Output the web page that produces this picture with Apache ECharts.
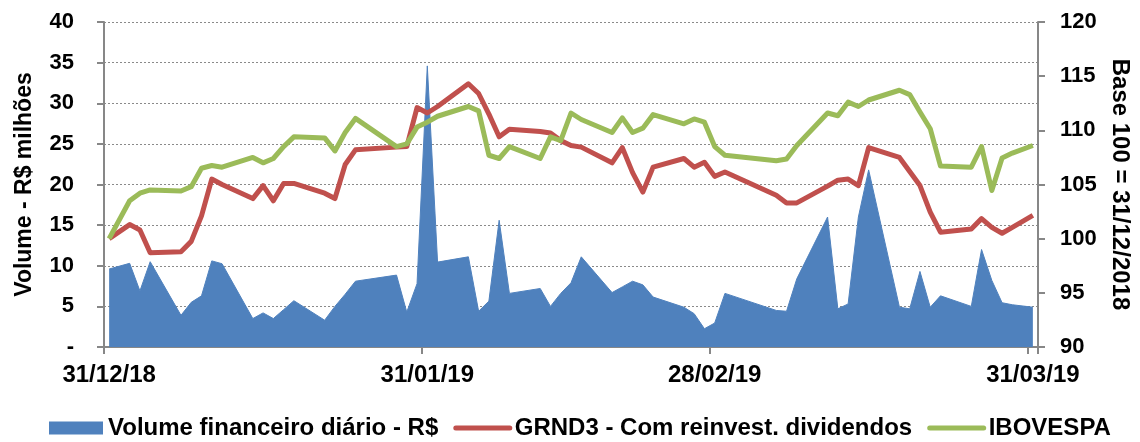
<!DOCTYPE html>
<html>
<head>
<meta charset="utf-8">
<script src="https://cdn.jsdelivr.net/npm/echarts@6/dist/echarts.min.js"></script>
<style>html,body{margin:0;padding:0;background:#fff;}#c{width:1140px;height:442px;}</style>
</head>
<body>
<div id="c"></div>
<script>
// Trading dates (yyyy-mm-dd)
const dates = [
 '2018-12-31','2019-01-02','2019-01-03','2019-01-04','2019-01-07','2019-01-08','2019-01-09','2019-01-10','2019-01-11',
 '2019-01-14','2019-01-15','2019-01-16','2019-01-17','2019-01-18','2019-01-21','2019-01-22','2019-01-23','2019-01-24',
 '2019-01-28','2019-01-29','2019-01-30','2019-01-31','2019-02-01','2019-02-04','2019-02-05','2019-02-06','2019-02-07',
 '2019-02-08','2019-02-11','2019-02-12','2019-02-13','2019-02-14','2019-02-15','2019-02-18','2019-02-19','2019-02-20',
 '2019-02-21','2019-02-22','2019-02-25','2019-02-26','2019-02-27','2019-02-28','2019-03-01','2019-03-06','2019-03-07',
 '2019-03-08','2019-03-11','2019-03-12','2019-03-13','2019-03-14','2019-03-15','2019-03-18','2019-03-19','2019-03-20',
 '2019-03-21','2019-03-22','2019-03-25','2019-03-26','2019-03-27','2019-03-28','2019-03-29','2019-03-31'
];
// Volume financeiro diário (R$ milhões)
const volume = [
 9.6,10.3,6.9,10.5,3.9,5.5,6.3,10.6,10.25,
 3.5,4.2,3.5,4.6,5.7,3.3,5.0,6.5,8.1,
 8.85,4.3,7.8,34.6,10.45,11.1,4.4,5.65,15.6,
 6.6,7.2,5.0,6.6,7.9,11.1,6.7,7.4,8.1,
 7.65,6.15,4.9,4.1,2.25,2.95,6.6,4.5,4.4,
 8.4,16.0,4.7,5.3,16.0,21.8,4.9,4.7,9.3,
 4.9,6.3,5.0,12.0,8.2,5.45,5.2,4.9
];
// GRND3 - Com reinvest. dividendos (base 100)
const grnd3 = [
 100,101.3,100.8,98.7,98.8,99.75,102.1,105.5,105.0,
 103.7,104.9,103.5,105.1,105.1,104.2,103.7,106.85,108.2,
 108.45,108.5,112.1,111.6,112.2,114.3,113.4,111.5,109.4,
 110.1,109.9,109.75,109.05,108.6,108.45,107.0,108.4,106.1,
 104.3,106.6,107.4,106.6,107.05,105.75,106.15,104.0,103.3,
 103.3,104.85,105.4,105.5,104.9,108.4,107.5,106.2,104.9,
 102.45,100.6,100.9,101.85,101.05,100.5,101.05,102.15
];
// IBOVESPA (base 100)
const ibov = [
 100,103.5,104.2,104.5,104.4,104.8,106.5,106.75,106.6,
 107.5,107.0,107.4,108.5,109.4,109.3,108.1,109.8,111.1,
 108.5,108.75,110.3,110.75,111.3,112.2,111.8,107.7,107.4,
 108.5,107.4,109.4,109.05,111.6,111.0,109.8,111.15,109.8,
 110.2,111.45,110.6,111.05,110.75,108.5,107.7,107.2,107.35,
 108.6,111.6,111.35,112.6,112.2,112.8,113.7,113.3,111.7,
 110.15,106.7,106.6,108.5,104.45,107.45,107.9,108.6
];
const tickDates = ['2018-12-31','2019-01-31','2019-02-28','2019-03-31'];
const seriesNames = ['Volume financeiro diário - R$','GRND3 - Com reinvest. dividendos','IBOVESPA'];

// Build daily category axis (one slot per calendar day)
const DAY = 86400000;
function utc(s){const p=s.split('-').map(Number);return Date.UTC(p[0],p[1]-1,p[2]);}
const start = utc('2018-12-31'), end = utc('2019-03-31');
const nDays = Math.round((end-start)/DAY)+1;
const cats = [];
for(let i=0;i<nDays;i++){
  const d=new Date(start+i*DAY);
  const dd=String(d.getUTCDate()).padStart(2,'0'), mm=String(d.getUTCMonth()+1).padStart(2,'0'), yy=String(d.getUTCFullYear()%100).padStart(2,'0');
  cats.push(dd+'/'+mm+'/'+yy);
}
function daily(vals){
  const arr=new Array(nDays).fill(null);
  dates.forEach((s,i)=>{arr[Math.round((utc(s)-start)/DAY)]=vals[i];});
  return arr;
}
const tickIdx = new Set(tickDates.map(s=>Math.round((utc(s)-start)/DAY)));

const FONT = '"Liberation Sans", Arial, sans-serif';
const axisLineStyle = {color:'#878787', width:2};
const noSymbol = {color:'rgba(0,0,0,0)', borderWidth:0, opacity:0};
const chart = echarts.init(document.getElementById('c'), null, {renderer:'canvas'});
chart.setOption({
  animation:false,
  textStyle:{fontFamily:FONT},
  grid:{left:104, right:99, top:22, bottom:95, containLabel:false},
  legend:{
    left:44, top:411, itemWidth:54, itemHeight:13, itemGap:15,
    textStyle:{fontFamily:FONT, fontWeight:'bold', fontSize:24, color:'#000'},
    data:[
      {name:seriesNames[0], icon:'rect', itemStyle:{color:'#4F81BD', borderWidth:0}, lineStyle:{width:0}},
      {name:seriesNames[1], itemStyle:noSymbol, lineStyle:{width:5, color:'#C0504D', cap:'round'}},
      {name:seriesNames[2], itemStyle:noSymbol, lineStyle:{width:5, color:'#9BBB59', cap:'round'}}
    ]
  },
  xAxis:{
    type:'category', data:cats, boundaryGap:true,
    axisLine:{lineStyle:axisLineStyle},
    axisTick:{show:true, length:7, lineStyle:{color:'#878787', width:2}, interval:(i)=>tickIdx.has(i)},
    axisLabel:{interval:(i)=>tickIdx.has(i), margin:16, fontFamily:FONT, fontWeight:'bold', fontSize:24, color:'#000'},
    splitLine:{show:false}
  },
  yAxis:[
    {
      type:'value', min:0, max:40, interval:5, position:'left',
      name:'Volume - R$ milhões', nameLocation:'middle', nameRotate:90, nameGap:68,
      nameTextStyle:{fontFamily:FONT, fontWeight:'bold', fontSize:23, color:'#000'},
      axisLine:{show:true, lineStyle:axisLineStyle},
      axisTick:{show:true, length:7, lineStyle:{color:'#878787', width:2}},
      axisLabel:{margin:30, fontFamily:FONT, fontWeight:'bold', fontSize:22, color:'#000', formatter:(v)=>v===0?'-':String(v)},
      splitLine:{show:true, lineStyle:{color:'#8a8a8a', width:1, type:[2,2]}}
    },
    {
      type:'value', min:90, max:120, interval:5, position:'right',
      name:'Base 100 = 31/12/2018', nameLocation:'middle', nameRotate:-90, nameGap:70,
      nameTextStyle:{fontFamily:FONT, fontWeight:'bold', fontSize:24, color:'#000'},
      axisLine:{show:true, lineStyle:axisLineStyle},
      axisTick:{show:true, length:7, lineStyle:{color:'#878787', width:2}},
      axisLabel:{margin:22, fontFamily:FONT, fontWeight:'bold', fontSize:22, color:'#000'},
      splitLine:{show:false}
    }
  ],
  series:[
    {name:seriesNames[0], type:'line', yAxisIndex:0, data:daily(volume), connectNulls:true, symbol:'none',
     itemStyle:{color:'#4F81BD'}, lineStyle:{color:'#4F81BD', width:1}, areaStyle:{color:'#4F81BD', opacity:1}, z:1},
    {name:seriesNames[1], type:'line', yAxisIndex:1, data:daily(grnd3), connectNulls:true, symbol:'none',
     itemStyle:{color:'#C0504D'}, lineStyle:{color:'#C0504D', width:5, join:'round'}, z:2},
    {name:seriesNames[2], type:'line', yAxisIndex:1, data:daily(ibov), connectNulls:true, symbol:'none',
     itemStyle:{color:'#9BBB59'}, lineStyle:{color:'#9BBB59', width:5, join:'round'}, z:3}
  ]
});
</script>
</body>
</html>
